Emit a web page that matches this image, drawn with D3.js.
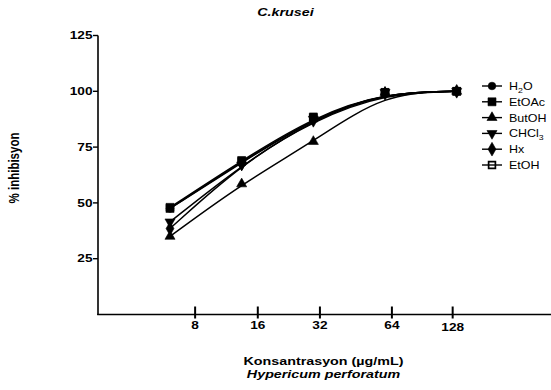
<!DOCTYPE html>
<html>
<head>
<meta charset="utf-8">
<script src="https://cdn.jsdelivr.net/npm/d3@7"></script>
<style>
  html, body { margin: 0; padding: 0; background: #fff; }
  svg { display: block; }
  text { font-family: "Liberation Sans", Arial, Helvetica, sans-serif; fill: #000; }
</style>
</head>
<body>
<script>
// Concentrations (µg/mL) and % inhibition of C. krusei for each Hypericum perforatum extract
const concentrations = [8, 16, 32, 64, 128];
const h2o   = [47.5, 68.0, 88.0, 99.5, 100];
const etoac = [48.0, 69.0, 88.5, 99.5, 100];
const butoh = [35.0, 58.5, 77.5, 99.5, 100];
const chcl3 = [41.5, 67.0, 87.5, 99.5, 100];
const hx    = [38.5, 67.5, 87.0, 99.0, 100];
const etoh  = [47.5, 68.5, 88.0, 99.5, 100];

const seriesNames = ["H2O", "EtOAc", "ButOH", "CHCl3", "Hx", "EtOH"];
const seriesValues = [h2o, etoac, butoh, chcl3, hx, etoh];

// Where the concentration labels sit along the log axis, and their text
const xTickAt = [10.2, 18.7, 34.1, 68.4, 123.1];
const xTickLabels = ["8", "16", "32", "64", "128"];
const yTickValues = [25, 50, 75, 100, 125];

const W = 551, H = 390;
const SX = 1.3; // horizontal glyph stretch used throughout the figure

const svg = d3.select("body").append("svg")
  .attr("width", W).attr("height", H);

const x = d3.scaleLog().base(2).domain([8, 128]).range([170, 456.7]);
const y = d3.scaleLinear().domain([0, 125]).range([314.5, 35.5]);
const xLeft = 98, xRight = W;

// stretched text helper
function stext(g, tx, ty, str, opts) {
  const t = g.append("text")
    .attr("transform", `translate(${tx},${ty}) scale(${opts.sx || SX},1)`)
    .attr("text-anchor", opts.anchor || "start")
    .attr("font-size", opts.size)
    .attr("font-weight", opts.weight || "normal")
    .attr("font-style", opts.style || "normal");
  if (str !== null) t.text(str);
  return t;
}

// Title
stext(svg, 285.5, 16, "C.krusei", {anchor: "middle", size: 11, weight: "bold", style: "italic"});

// Y axis
const yAxis = svg.append("g");
yAxis.append("line")
  .attr("x1", xLeft).attr("x2", xLeft)
  .attr("y1", y(125)).attr("y2", y(0) + 0.5)
  .attr("stroke", "#000").attr("stroke-width", 1.6);
yTickValues.forEach(v => {
  yAxis.append("line")
    .attr("x1", xLeft - 5).attr("x2", xLeft)
    .attr("y1", y(v)).attr("y2", y(v))
    .attr("stroke", "#000").attr("stroke-width", 1.4);
  stext(yAxis, xLeft - 5.5, y(v) + 3.7, String(v), {anchor: "end", size: 10.5, weight: "bold"});
});

// Y axis title
svg.append("text")
  .attr("transform", "translate(19,168) rotate(-90) scale(1,1.3)")
  .attr("text-anchor", "middle")
  .attr("font-size", 11.5)
  .attr("font-weight", "bold")
  .text("% inhibisyon");

// X axis
const xAxis = svg.append("g");
xAxis.append("line")
  .attr("x1", xLeft - 0.8).attr("x2", xRight)
  .attr("y1", y(0)).attr("y2", y(0))
  .attr("stroke", "#000").attr("stroke-width", 1.6);
xTickAt.forEach((v, i) => {
  const px = x(v);
  xAxis.append("line")
    .attr("x1", px).attr("x2", px)
    .attr("y1", y(0) - 8).attr("y2", y(0) + 4)
    .attr("stroke", "#000").attr("stroke-width", 2);
  stext(xAxis, px, y(0) + 14 + (i === 4 ? 2.5 : 0), xTickLabels[i], {anchor: "middle", size: 10.5, weight: "bold"});
});

// X axis titles
stext(svg, 323.5, 365, "Konsantrasyon (µg/mL)", {anchor: "middle", size: 11, weight: "bold"});
stext(svg, 323.5, 378, "Hypericum perforatum", {anchor: "middle", size: 11, weight: "bold", style: "italic"});

// Marker shapes
const symbolFor = {
  "H2O":   {type: d3.symbolCircle,   size: 46, fill: "#000", rotate: 0},
  "EtOAc": {type: d3.symbolSquare,   size: 64, fill: "#000", rotate: 0},
  "ButOH": {type: d3.symbolTriangle, size: 44, fill: "#000", rotate: 0},
  "CHCl3": {type: d3.symbolTriangle, size: 44, fill: "#000", rotate: 180},
  "Hx":    {type: d3.symbolDiamond,  size: 54, fill: "#000", rotate: 0},
  "EtOH":  {type: d3.symbolSquare,   size: 46, fill: "none", rotate: 0}
};

function drawMarker(g, name, cx, cy) {
  const s = symbolFor[name];
  g.append("path")
    .attr("d", d3.symbol().type(s.type).size(s.size)())
    .attr("transform", `translate(${cx},${cy}) rotate(${s.rotate})`)
    .attr("fill", s.fill)
    .attr("stroke", "#000")
    .attr("stroke-width", s.fill === "none" ? 1.7 : 0.6);
}

// Smooth dose-response curves through each series
const line = d3.line()
  .x((d, i) => x(concentrations[i]))
  .y(d => y(d))
  .curve(d3.curveBasis);

const plot = svg.append("g");
seriesValues.forEach(vals => {
  plot.append("path")
    .attr("d", line(vals))
    .attr("fill", "none")
    .attr("stroke", "#000")
    .attr("stroke-width", 1.5);
});
seriesValues.forEach((vals, k) => {
  vals.forEach((v, i) => drawMarker(plot, seriesNames[k], x(concentrations[i]), y(v)));
});

// Legend
const legend = svg.append("g");
const legendLabels = [
  ["H", "2", "O"], ["EtOAc"], ["ButOH"], ["CHCl", "3"], ["Hx"], ["EtOH"]
];
seriesNames.forEach((name, k) => {
  const ly = 86 + k * 15.8;
  legend.append("line")
    .attr("x1", 482).attr("x2", 502)
    .attr("y1", ly).attr("y2", ly)
    .attr("stroke", "#000").attr("stroke-width", 1.4);
  drawMarker(legend, name, 492, ly);
  const t = stext(legend, 509, ly + 4, null, {size: 10, sx: 1.25});
  const parts = legendLabels[k];
  parts.forEach((p, j) => {
    const isSub = (parts.length > 1 && /^\d$/.test(p));
    const ts = t.append("tspan").text(p);
    if (isSub) ts.attr("font-size", 7).attr("dy", 2.5);
    else if (j > 0) ts.attr("dy", -2.5);
  });
});
</script>
</body>
</html>
